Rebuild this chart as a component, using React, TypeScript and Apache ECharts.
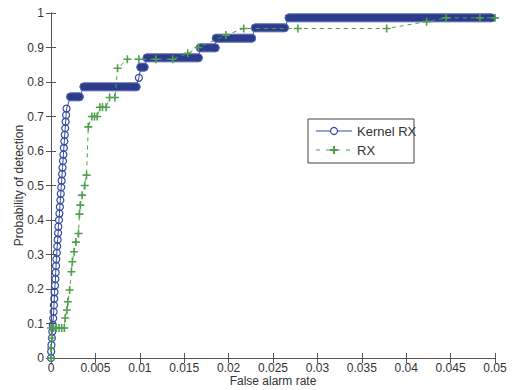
import React, { useEffect, useRef } from "react";
import * as echarts from "echarts";

const xTicks = [0, 0.005, 0.01, 0.015, 0.02, 0.025, 0.03, 0.035, 0.04, 0.045, 0.05];
const yTicks = [0, 0.1, 0.2, 0.3, 0.4, 0.5, 0.6, 0.7, 0.8, 0.9, 1];

// Kernel RX: individual circles (x = false alarm rate, y = probability of detection)
const kernelPoints: number[][] = [
  [0, 0], [0.00002, 0.019], [0.00005, 0.038], [0.0001, 0.058], [0.00015, 0.077],
  [0.0002, 0.096], [0.00025, 0.115], [0.0003, 0.134], [0.00033, 0.153], [0.00037, 0.172],
  [0.0004, 0.191], [0.00045, 0.21], [0.0005, 0.229], [0.00053, 0.248], [0.00057, 0.267],
  [0.0006, 0.286], [0.00065, 0.305], [0.0007, 0.324], [0.00075, 0.343], [0.0008, 0.362],
  [0.00083, 0.381], [0.0009, 0.4], [0.00095, 0.419], [0.001, 0.438], [0.00105, 0.457],
  [0.0011, 0.476], [0.00115, 0.495], [0.0012, 0.514], [0.00125, 0.533], [0.0013, 0.552],
  [0.00135, 0.571], [0.0014, 0.59], [0.00145, 0.609], [0.0015, 0.628], [0.00155, 0.647],
  [0.0016, 0.666], [0.00165, 0.685], [0.0017, 0.704], [0.00175, 0.723],
  [0.0022, 0.757], [0.0032, 0.757], [0.0037, 0.786], [0.0096, 0.786], [0.0099, 0.812],
  [0.0101, 0.843], [0.0105, 0.843], [0.0108, 0.87], [0.0166, 0.87], [0.0168, 0.899],
  [0.0185, 0.899], [0.0186, 0.927], [0.0226, 0.927], [0.023, 0.957], [0.0263, 0.957],
  [0.0268, 0.986], [0.0496, 0.986],
];

// Kernel RX: dense runs of circles at one detection level [xStart, xEnd, level]
const kernelRuns: number[][] = [
  [0.0022, 0.0032, 0.757],
  [0.0037, 0.0096, 0.786],
  [0.0101, 0.0105, 0.843],
  [0.0108, 0.0166, 0.87],
  [0.0168, 0.0185, 0.899],
  [0.0186, 0.0226, 0.927],
  [0.023, 0.0263, 0.957],
  [0.0268, 0.0496, 0.986],
];

// RX points
const rxPoints: number[][] = [
  [0, 0], [0, 0.029], [0.0001, 0.058], [0, 0.087], [0.0003, 0.087], [0.0006, 0.087],
  [0.0009, 0.087], [0.0012, 0.087], [0.0015, 0.087],
  [0.0016, 0.116], [0.0018, 0.139], [0.0019, 0.163], [0.0021, 0.197], [0.0023, 0.25],
  [0.0024, 0.279], [0.0026, 0.308], [0.0028, 0.336], [0.0031, 0.361], [0.0032, 0.417],
  [0.0033, 0.443], [0.0035, 0.472], [0.0038, 0.5], [0.004, 0.53], [0.0042, 0.67],
  [0.0046, 0.7], [0.0049, 0.7], [0.0052, 0.7], [0.0055, 0.727], [0.0058, 0.727],
  [0.0062, 0.727], [0.0066, 0.755], [0.0072, 0.755], [0.0075, 0.84], [0.0086, 0.866],
  [0.0099, 0.866], [0.0118, 0.866], [0.0137, 0.866], [0.0154, 0.883], [0.0166, 0.9],
  [0.0197, 0.936], [0.0217, 0.955], [0.0278, 0.955], [0.0378, 0.955], [0.0423, 0.975],
  [0.0445, 0.986], [0.0483, 0.986], [0.05, 0.986],
];

const BLUE = "#3349a0";
const NAVY = "#2b3c8c";
const GREEN = "#4f9f4f";
const AXIS = "#555";
const FONT = "Liberation Sans, Arial, sans-serif";
const PLUS = "path://M4,0H6V4H10V6H6V10H4V6H0V4H4Z";

export default function App() {
  const ref = useRef<HTMLDivElement>(null);
  useEffect(() => {
    if (!ref.current) return;
    const chart = echarts.init(ref.current, undefined, { renderer: "svg" });
    const fmt = (v: number) => String(+Number(v).toFixed(3));
    const baseX = {
      type: "value",
      min: xTicks[0],
      max: xTicks[xTicks.length - 1],
      interval: 0.005,
      splitLine: { show: false },
      axisLine: { show: true, lineStyle: { color: AXIS, width: 1 } },
      axisTick: { show: true, inside: true, length: 5, lineStyle: { color: AXIS } },
    };
    const baseY = {
      type: "value",
      min: yTicks[0],
      max: yTicks[yTicks.length - 1],
      interval: 0.1,
      splitLine: { show: false },
      axisLine: { show: true, lineStyle: { color: AXIS, width: 1 } },
      axisTick: { show: true, inside: true, length: 5, lineStyle: { color: AXIS } },
    };
    chart.setOption({
      animation: false,
      backgroundColor: "#ffffff",
      grid: { left: 51, right: 22, top: 13, bottom: 32, outerBoundsMode: "none", containLabel: false },
      xAxis: [
        {
          ...baseX,
          position: "bottom",
          name: "False alarm rate",
          nameLocation: "middle",
          nameGap: 17,
          nameMoveOverlap: false,
          nameTextStyle: { color: "#333", fontSize: 12, fontFamily: FONT },
          axisLabel: { color: "#333", fontSize: 12, fontFamily: FONT, margin: 4, formatter: fmt },
        },
        { ...baseX, position: "top", axisLabel: { show: false } },
      ],
      yAxis: [
        {
          ...baseY,
          position: "left",
          name: "Probability of detection",
          nameLocation: "middle",
          nameGap: 26,
          nameMoveOverlap: false,
          nameTextStyle: { color: "#333", fontSize: 12, fontFamily: FONT },
          axisLabel: { color: "#333", fontSize: 12, fontFamily: FONT, margin: 7, formatter: fmt },
        },
        { ...baseY, position: "right", axisLabel: { show: false } },
      ],
      series: [
        {
          type: "line",
          name: "Kernel RX",
          data: kernelPoints,
          z: 2,
          lineStyle: { color: BLUE, width: 1 },
          symbol: "circle",
          symbolSize: 7,
          showAllSymbol: true,
          itemStyle: { color: "rgba(255,255,255,0)", borderColor: BLUE, borderWidth: 1.2 },
        },
        {
          type: "custom",
          name: "Kernel RX runs",
          data: kernelRuns,
          z: 3,
          encode: { x: [0, 1], y: 2 },
          renderItem: (params: any, api: any) => {
            const s = api.coord([api.value(0), api.value(2)]);
            const e = api.coord([api.value(1), api.value(2)]);
            const r = 4;
            return {
              type: "rect",
              shape: { x: s[0] - r, y: s[1] - r, width: e[0] - s[0] + 2 * r, height: 2 * r, r: r },
              style: { fill: NAVY, stroke: "#5a6bb0", lineWidth: 1 },
            };
          },
        },
        {
          type: "line",
          name: "RX",
          data: rxPoints,
          z: 4,
          lineStyle: { color: GREEN, width: 1, type: [4, 4] },
          symbol: PLUS,
          symbolSize: 8,
          showAllSymbol: true,
          itemStyle: { color: GREEN },
        },
      ],
      graphic: [
        {
          type: "group",
          z: 100,
          children: [
            { type: "rect", shape: { x: 308, y: 119, width: 106, height: 44 }, style: { fill: "#fff", stroke: "#444", lineWidth: 1 } },
            { type: "line", shape: { x1: 316, y1: 131, x2: 352, y2: 131 }, style: { stroke: BLUE, lineWidth: 1 } },
            { type: "circle", shape: { cx: 334, cy: 131, r: 3.5 }, style: { fill: "#fff", stroke: BLUE, lineWidth: 1.2 } },
            { type: "text", style: { x: 357, y: 131, text: "Kernel RX", fill: "#333", font: "13px " + FONT, verticalAlign: "middle" } },
            { type: "line", shape: { x1: 316, y1: 150, x2: 352, y2: 150 }, style: { stroke: GREEN, lineWidth: 1, lineDash: [4, 6] } },
            { type: "polygon", shape: { points: [[333, 146], [335, 146], [335, 149], [338, 149], [338, 151], [335, 151], [335, 154], [333, 154], [333, 151], [330, 151], [330, 149], [333, 149]] }, style: { fill: GREEN } },
            { type: "text", style: { x: 357, y: 150, text: "RX", fill: "#333", font: "13px " + FONT, verticalAlign: "middle" } },
          ],
        },
      ],
    });
    return () => chart.dispose();
  }, []);
  return (
    <div
      ref={ref}
      style={{ position: "fixed", left: 0, top: 0, width: 517, height: 390, background: "#fff" }}
    />
  );
}
